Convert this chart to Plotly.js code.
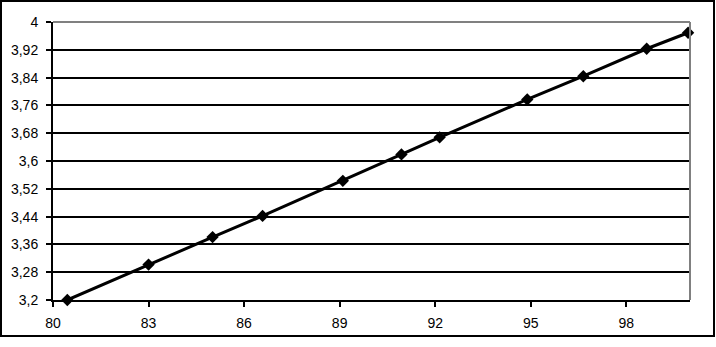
<!DOCTYPE html>
<html><head><meta charset="utf-8">
<script src="https://cdn.plot.ly/plotly-3.0.1.min.js"></script>
<style>
html,body{margin:0;padding:0;background:#fff;}
#wrap{position:relative;width:716px;height:347px;}
#chart{position:absolute;left:0;top:0;width:716px;height:347px;}
#frame{position:absolute;left:0;top:0;width:711px;height:333px;border:2px solid #000;pointer-events:none;}
</style></head>
<body>
<div id="wrap"><div id="chart"></div><div id="frame"></div></div>
<script>
const xValues = [80.45, 83.0, 85.01, 86.58, 89.10, 90.94, 92.14, 94.89, 96.65, 98.64, 99.94];
const yValues = [3.200, 3.302, 3.381, 3.442, 3.543, 3.619, 3.668, 3.777, 3.844, 3.923, 3.969];
const xTicks = [80, 83, 86, 89, 92, 95, 98];
const yTicks = [3.2, 3.28, 3.36, 3.44, 3.52, 3.6, 3.68, 3.76, 3.84, 3.92, 4];

const trace = {
  x: xValues, y: yValues, type: 'scatter', mode: 'lines+markers',
  line: {color: '#000', width: 3},
  marker: {symbol: 'diamond', size: 9.5, color: '#000'},
  cliponaxis: false, showlegend: false
};
const layout = {
  width: 716, height: 347,
  margin: {l: 53, r: 26, t: 22, b: 47},
  paper_bgcolor: '#fff', plot_bgcolor: '#fff',
  separators: ', ',
  font: {family: 'Liberation Sans, Arial, sans-serif', size: 14, color: '#000'},
  xaxis: {
    range: [80, 100], tickvals: xTicks, ticktext: xTicks.map(String),
    showgrid: false, zeroline: false, showline: true, linecolor: '#000', linewidth: 2,
    ticks: 'outside', ticklen: 5, tickwidth: 2, tickcolor: '#000', ticklabelstandoff: 4
  },
  yaxis: {
    range: [3.2, 4], tickvals: yTicks, ticktext: yTicks.map(v => String(v).replace('.', ',')),
    showgrid: true, gridcolor: '#000', gridwidth: 2,
    zeroline: false, showline: true, linecolor: '#000', linewidth: 2,
    ticks: 'outside', ticklen: 5, tickwidth: 2, tickcolor: '#000', ticklabelstandoff: 5
  },
  shapes: [
    {type: 'line', xref: 'paper', yref: 'paper', x0: 0, x1: 1, y0: 1, y1: 1, line: {color: '#808080', width: 2}, layer: 'above'},
    {type: 'line', xref: 'paper', yref: 'paper', x0: 1, x1: 1, y0: 0, y1: 1, line: {color: '#808080', width: 2}, layer: 'above'}
  ]
};
Plotly.newPlot('chart', [trace], layout, {displayModeBar: false, staticPlot: true});
</script>
</body></html>
